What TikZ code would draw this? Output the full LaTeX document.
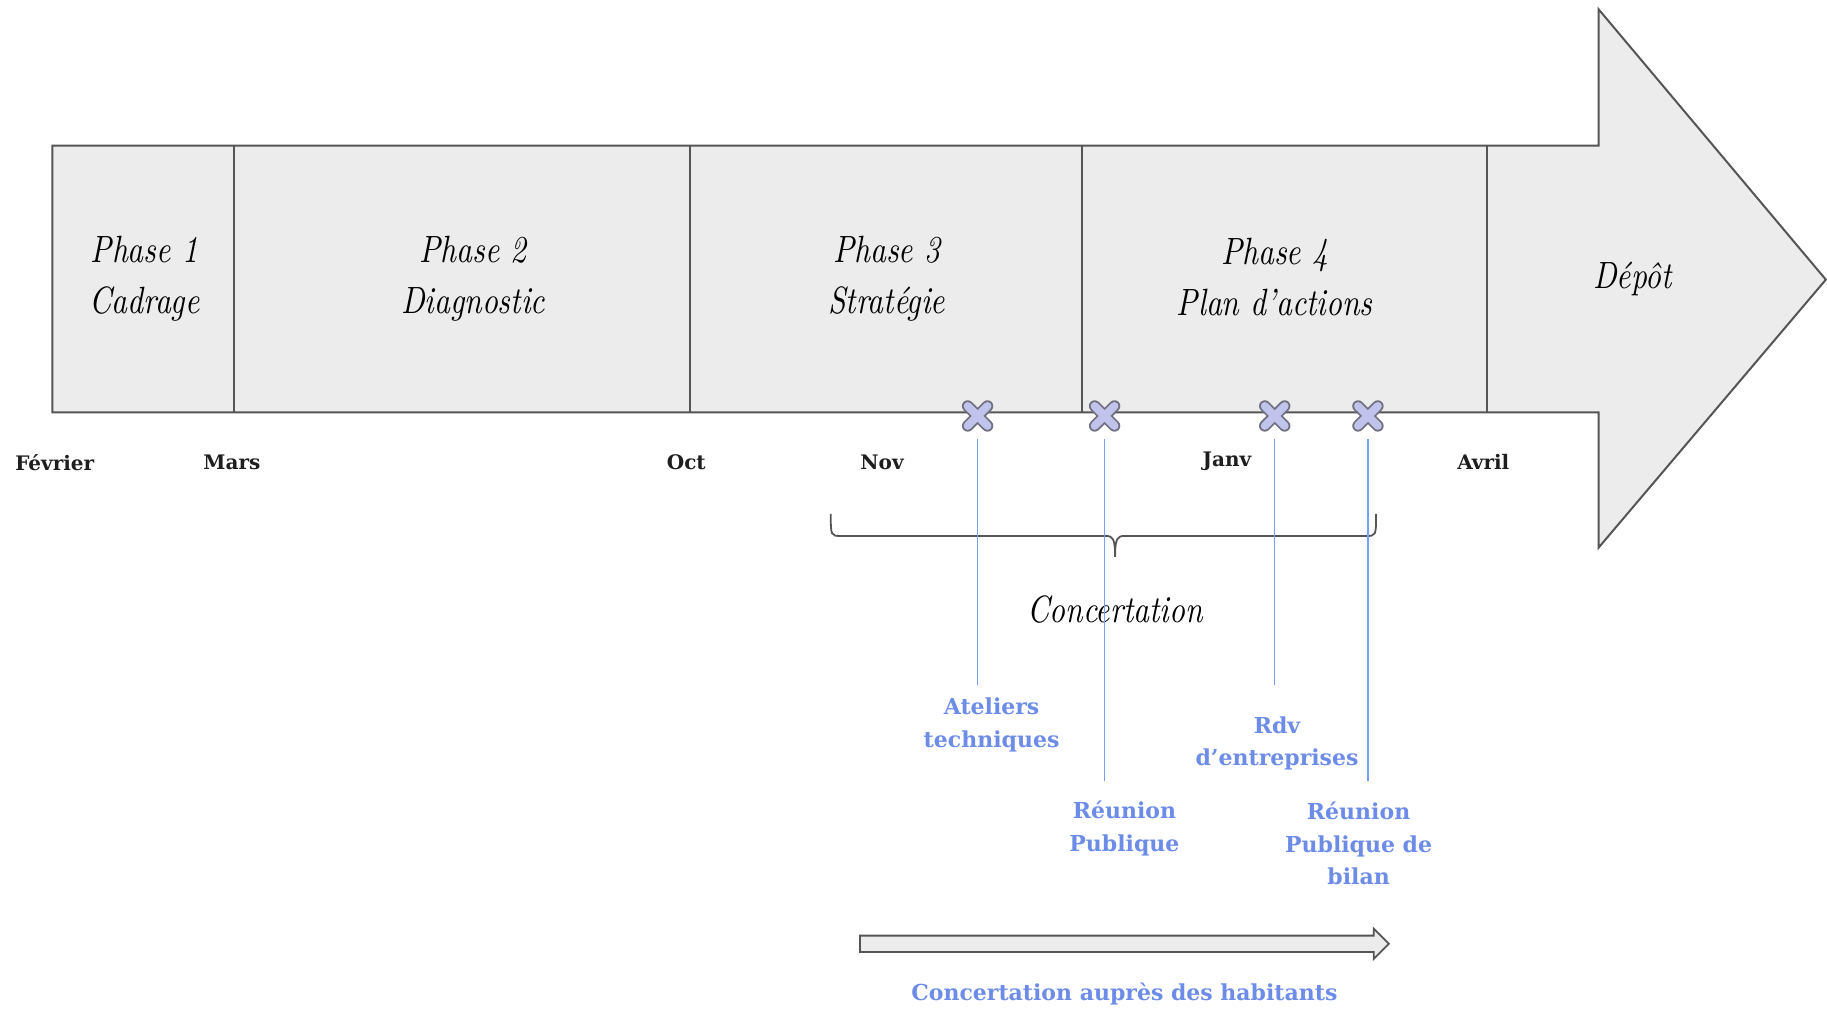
\documentclass[tikz,border=0pt]{standalone}
\usepackage{fontspec}
\newfontfamily\slab{DejaVu Serif}
\newfontfamily\scr{lmroman10-italic}[Extension=.otf,FakeStretch=0.82]
\usetikzlibrary{calc}
\definecolor{barfill}{RGB}{236,236,236}
\definecolor{barline}{RGB}{85,85,85}
\definecolor{evblue}{RGB}{108,140,232}
\definecolor{lineblue}{RGB}{120,160,240}
\definecolor{markfill}{RGB}{192,196,236}
\definecolor{markline}{RGB}{112,112,128}
\definecolor{monthtext}{RGB}{30,30,30}
\tikzset{
  xmark/.pic={
    \draw[markline,line width=5.8pt,line cap=round] (-8.5,-8.5)--(8.5,8.5) (-8.5,8.5)--(8.5,-8.5);
    \draw[markfill,line width=4.0pt,line cap=round] (-8.5,-8.5)--(8.5,8.5) (-8.5,8.5)--(8.5,-8.5);
  }
}
\begin{document}
\begin{tikzpicture}[x=0.5826pt,y=-0.5826pt,
  phase/.style={align=center,font=\scr\fontsize{19}{25.6}\selectfont,text=black},
  month/.style={font=\slab\bfseries\fontsize{10}{12}\selectfont,text=monthtext},
  event/.style={align=center,text=evblue,font=\slab\bfseries\fontsize{11}{16.3}\selectfont},
  vline/.style={draw=lineblue,line width=0.7pt},
  outline/.style={draw=barline,line width=1pt,fill=barfill},
  divider/.style={draw=barline,line width=1pt},
  markpt/.style={inner sep=0pt,minimum size=15.7pt}]
\useasboundingbox (0,0) rectangle (1568,869);

% big arrow
\path[outline] (45,125) -- (1372,125) -- (1372,8) -- (1567,240) -- (1372,470) -- (1372,354) -- (45,354) -- cycle;
\foreach \xx in {201,592,929,1276} \draw[divider] (\xx,125) -- (\xx,354);

% phase texts
\node[phase] (p1) at (124,239) {Phase 1\\Cadrage};
\node[phase] (p2) at (406,239) {Phase 2\\Diagnostic};
\node[phase] (p3) at (761,239) {Phase 3\\Stratégie};
\node[phase] (p4) at (1094,238) {Phase 4\\Plan d’actions};
\node[phase] (dep) at (1401,239) {Dépôt};

% months
\node[month] (fev) at (47,397) {Février};
\node[month] (mar) at (199,397) {Mars};
\node[month] (oct) at (589,397) {Oct};
\node[month] (nov) at (757,397) {Nov};
\node[month] (jan) at (1053,396) {Janv};
\node[month] (avr) at (1273,396) {Avril};

% brace
\coordinate (bl) at (713,441);
\coordinate (br) at (1181,441);
\coordinate (bt) at (957,478);
\draw[barline,line width=0.9pt] (bl) .. controls (713,460) and (713,460) .. (722,460) -- (949,460)
  .. controls (955,460) and (957,462) .. (bt)
  .. controls (957,462) and (959,460) .. (965,460) -- (1172,460)
  .. controls (1181,460) and (1181,460) .. (br);
\node[phase] (conc) at (957,523) {Concertation};

% event labels
\node[event] (a1) at (851,622) {Ateliers\\techniques};
\node[event] (a2) at (965,711) {Réunion\\Publique};
\node[event] (a3) at (1096,638) {Rdv\\d’entreprises};
\node[event] (a4) at (1166,724) {Réunion\\Publique de\\bilan};

% markers
\node[markpt] (m1) at (839,357) {};
\node[markpt] (m2) at (948,357) {};
\node[markpt] (m3) at (1094,357) {};
\node[markpt] (m4) at (1174,357) {};
\coordinate (e1) at (839,588);
\coordinate (e2) at (948,670);
\coordinate (e3) at (1094,588);
\coordinate (e4) at (1174,670);
\foreach \i in {1,2,3,4} {
  \draw[vline] ($(m\i.south)+(0,6)$) -- (e\i);
}
\foreach \i in {1,2,3,4} { \pic at (m\i) {xmark}; }

% bottom arrow
\coordinate (hs) at (738,810);
\coordinate (he) at (1192,810);
\path[outline,line width=0.9pt] ($(hs)+(0,-7)$) -- (1179,803) -- (1179,797) -- (he) -- (1179,823) -- (1179,817) -- ($(hs)+(0,7)$) -- cycle;
\node[event,font=\slab\bfseries\fontsize{11}{13}\selectfont] (hab) at (965,853) {Concertation auprès des habitants};
\end{tikzpicture}
\end{document}
